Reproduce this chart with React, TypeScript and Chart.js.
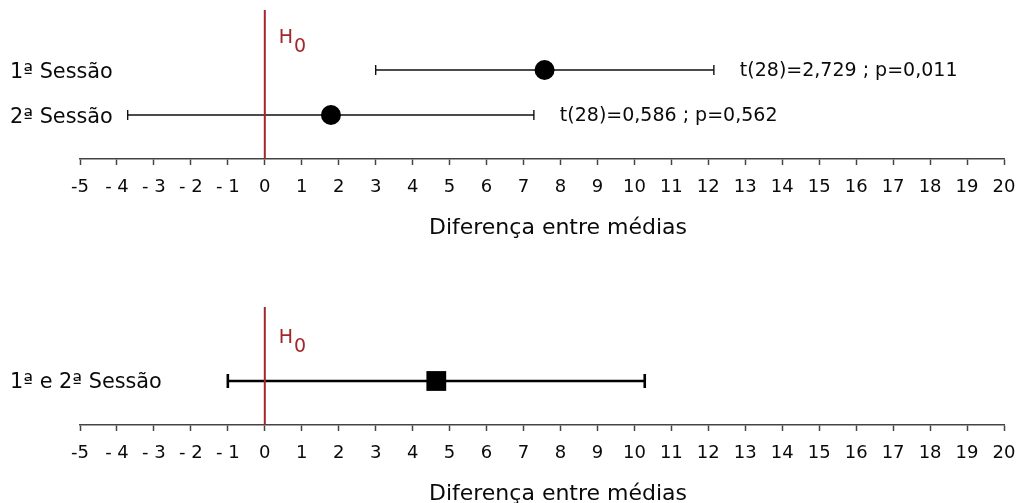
import React, { useEffect, useRef } from "react";
import { Chart, registerables } from "chart.js";

Chart.register(...registerables);

// ---- data ----
const tickValues = [-5, -4, -3, -2, -1, 0, 1, 2, 3, 4, 5, 6, 7, 8, 9, 10, 11, 12, 13, 14, 15, 16, 17, 18, 19, 20];
const tickLabels = ["-5", "- 4", "- 3", "- 2", "- 1", "0", "1", "2", "3", "4", "5", "6", "7", "8", "9", "10", "11", "12", "13", "14", "15", "16", "17", "18", "19", "20"];
const axisTitle = "Diferença entre médias";
const nullValue = 0;
const nullLabel = "H";
const nullSub = "0";

const sessionLabels = ["1ª Sessão", "2ª Sessão"];
const sessionMeans = [7.57, 1.79];
const sessionLower = [3.0, -3.71];
const sessionUpper = [12.15, 7.28];
const sessionStats = ["t(28)=2,729 ; p=0,011", "t(28)=0,586 ; p=0,562"];

const pooledLabels = ["1ª e 2ª Sessão"];
const pooledMeans = [4.64];
const pooledLower = [-1.0];
const pooledUpper = [10.28];
const pooledStats: string[] = [];

// ---- style ----
const FONT = "'DejaVu Sans'";
const H0_COLOR = "#a3262a";
const TEXT_COLOR = "#0a0a0a";

const forestPlugin = {
  id: "forest",
  beforeDatasetsDraw(chart: any, _args: any, opts: any) {
    const { ctx, chartArea, scales } = chart;
    const x = scales.x;
    const y = scales.y;
    ctx.save();
    ctx.strokeStyle = opts.barColor;
    ctx.lineWidth = opts.barWidth;
    opts.lower.forEach((lo: number, i: number) => {
      const yy = y.getPixelForValue(i);
      const x1 = x.getPixelForValue(lo);
      const x2 = x.getPixelForValue(opts.upper[i]);
      ctx.beginPath();
      ctx.moveTo(x1, yy);
      ctx.lineTo(x2, yy);
      ctx.moveTo(x1, yy - opts.cap);
      ctx.lineTo(x1, yy + opts.cap);
      ctx.moveTo(x2, yy - opts.cap);
      ctx.lineTo(x2, yy + opts.cap);
      ctx.stroke();
    });
    const x0 = x.getPixelForValue(nullValue);
    ctx.strokeStyle = H0_COLOR;
    ctx.lineWidth = 2;
    ctx.beginPath();
    ctx.moveTo(x0, chartArea.top);
    ctx.lineTo(x0, chartArea.bottom);
    ctx.stroke();
    ctx.fillStyle = H0_COLOR;
    ctx.font = `19px ${FONT}`;
    ctx.textAlign = "left";
    ctx.textBaseline = "alphabetic";
    const hx = x0 + 14;
    const hy = chartArea.top + opts.h0Base;
    ctx.fillText(nullLabel, hx, hy);
    const w = ctx.measureText(nullLabel).width;
    ctx.fillText(nullSub, hx + w + 1, hy + 9);
    ctx.restore();
  },
  afterDatasetsDraw(chart: any, _args: any, opts: any) {
    const { ctx, scales } = chart;
    const x = scales.x;
    const y = scales.y;
    ctx.save();
    ctx.fillStyle = TEXT_COLOR;
    ctx.textBaseline = "alphabetic";
    ctx.textAlign = "left";
    ctx.font = `20.8px ${FONT}`;
    opts.labels.forEach((lab: string, i: number) => {
      ctx.fillText(lab, 10, y.getPixelForValue(i) + 7.5);
    });
    ctx.font = `19px ${FONT}`;
    opts.stats.forEach((s: string, i: number) => {
      ctx.fillText(s, x.getPixelForValue(opts.upper[i]) + 26, y.getPixelForValue(i) + 6.3);
    });
    // axis title
    ctx.font = `22px ${FONT}`;
    ctx.textAlign = "center";
    ctx.fillText(axisTitle, (x.left + x.right) / 2 + 16, x.top + 75);
    ctx.restore();
  },
};

function makeConfig(p: any): any {
  return {
    type: "scatter",
    data: {
      datasets: [
        {
          data: p.means.map((m: number, i: number) => ({ x: m, y: i })),
          pointStyle: p.pointStyle,
          pointRadius: p.radius,
          pointHoverRadius: p.radius,
          backgroundColor: "#000",
          borderColor: "#000",
          borderWidth: 0,
        },
      ],
    },
    options: {
      animation: false,
      responsive: false,
      events: [],
      layout: { padding: { top: p.padTop, left: 80, right: 14, bottom: 0 } },
      plugins: {
        legend: { display: false },
        tooltip: { enabled: false },
        forest: {
          labels: p.labels,
          lower: p.lower,
          upper: p.upper,
          stats: p.stats,
          barWidth: p.barWidth,
          barColor: p.barColor,
          cap: p.cap,
          h0Base: p.h0Base,
        },
      },
      scales: {
        x: {
          type: "linear",
          min: tickValues[0],
          max: tickValues[tickValues.length - 1],
          afterBuildTicks: (scale: any) => {
            scale.ticks = tickValues.map((v) => ({ value: v }));
          },
          afterFit: (scale: any) => {
            scale.height = 101;
          },
          ticks: {
            autoSkip: false,
            maxRotation: 0,
            padding: 0,
            color: TEXT_COLOR,
            font: { family: FONT, size: 18, lineHeight: 2.5 },
            callback: (_v: any, i: number) => tickLabels[i],
          },
          grid: {
            drawOnChartArea: false,
            drawTicks: true,
            tickLength: 6,
            tickWidth: 1.5,
            color: "#444",
          },
          border: { display: true, color: "#444", width: 1.5 },
          title: { display: false, text: axisTitle },
        },
        y: {
          type: "linear",
          display: false,
          reverse: true,
          min: p.yMin,
          max: p.yMax,
        },
      },
    },
    plugins: [forestPlugin],
  };
}

function ForestCanvas(props: { cfg: any; top: number }) {
  const ref = useRef<HTMLCanvasElement>(null);
  useEffect(() => {
    if (!ref.current) return;
    const chart = new Chart(ref.current, makeConfig(props.cfg));
    return () => chart.destroy();
  }, []);
  return (
    <canvas
      ref={ref}
      width={1018}
      height={260}
      style={{ position: "absolute", left: 0, top: props.top, width: 1018, height: 260 }}
    />
  );
}

export default function App() {
  const topCfg = {
    labels: sessionLabels,
    means: sessionMeans,
    lower: sessionLower,
    upper: sessionUpper,
    stats: sessionStats,
    pointStyle: "circle",
    radius: 10,
    barWidth: 1.4,
    barColor: "#111",
    cap: 5,
    padTop: 10,
    yMin: -1.334,
    yMax: 1.977,
    h0Base: 33,
  };
  const bottomCfg = {
    labels: pooledLabels,
    means: pooledMeans,
    lower: pooledLower,
    upper: pooledUpper,
    stats: pooledStats,
    pointStyle: "rect",
    radius: 14,
    barWidth: 2.6,
    barColor: "#000",
    cap: 7,
    padTop: 41,
    yMin: -1.254,
    yMax: 0.746,
    h0Base: 36,
  };
  return (
    <div
      style={{
        position: "absolute",
        left: 0,
        top: 0,
        width: 1018,
        height: 503,
        overflow: "hidden",
        background: "#fff",
      }}
    >
      <ForestCanvas cfg={topCfg} top={0} />
      <ForestCanvas cfg={bottomCfg} top={266} />
    </div>
  );
}
